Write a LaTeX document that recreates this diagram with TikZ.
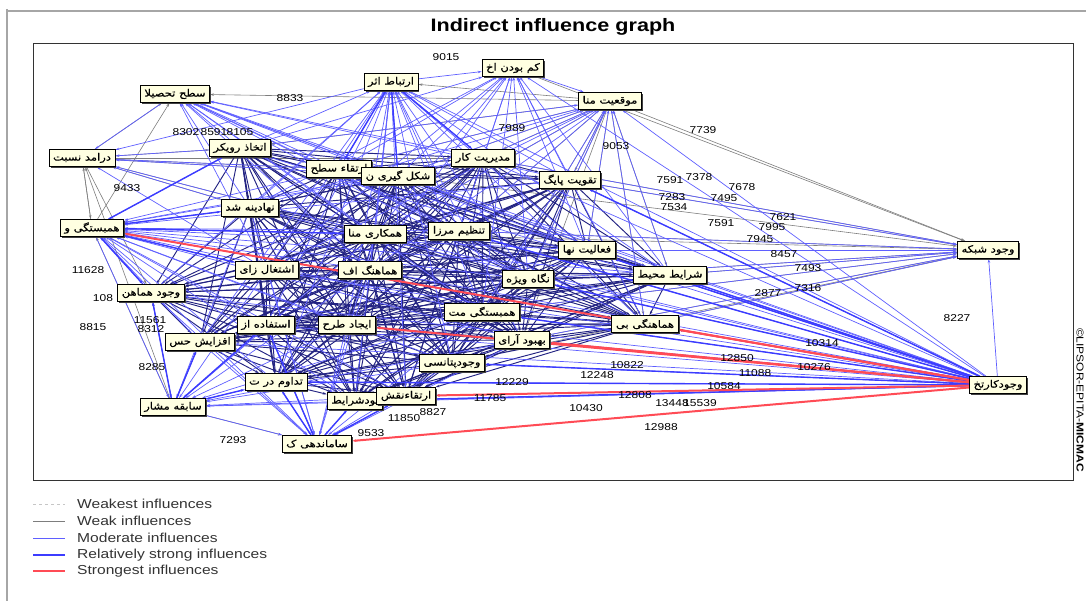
\documentclass[tikz,border=0pt]{standalone}
\usepackage{fontspec}
\setmainfont[FakeStretch=1.2]{Liberation Sans}
\newfontfamily\farsi[Script=Arabic, FakeStretch=1.15, FakeBold=0.6]{DejaVu Sans}
\TeXXeTstate=1
\usetikzlibrary{shadows,backgrounds,arrows.meta}

\newcommand{\fatxt}[1]{{\farsi\beginR #1\endR}}

\definecolor{cream}{RGB}{255,255,225}
\definecolor{weakgray}{RGB}{125,125,125}
\definecolor{modblue}{RGB}{95,95,255}
\definecolor{strongblue}{RGB}{60,60,255}
\definecolor{meshblue}{RGB}{35,35,130}
\definecolor{strongred}{RGB}{255,75,85}

\tikzset{
  factor/.style={draw=black, line width=0.9pt, fill=cream, inner xsep=4pt, inner ysep=1pt,
    minimum height=17pt, font=\fontsize{10}{10}\selectfont,
    drop shadow={shadow xshift=1.5pt, shadow yshift=-1.5pt, fill=black!75, opacity=1}},
  val/.style={font=\fontsize{10}{10}\selectfont, inner sep=0pt},
  legendtext/.style={font=\fontsize{13}{13}\selectfont, text=black!80, anchor=west, inner sep=0pt},
  tip/.style={-{Stealth[length=4pt,width=2.5pt]}},
  weakestline/.style={gray!45, dashed, line width=0.6pt},
  weakline/.style={weakgray, line width=0.6pt, tip},
  modline/.style={modblue, line width=0.7pt, tip},
  meshline/.style={meshblue, line width=0.95pt, tip},
  strongline/.style={strongblue, line width=1.4pt, tip},
  redline/.style={strongred, line width=2pt, tip}
}

\begin{document}
\begin{tikzpicture}[x=1pt, y=-1pt]
\useasboundingbox (0,0) rectangle (1086,601);

% frame
\draw [gray!70, line width=2.5pt] (7,9) -- (7,601);
\draw [gray!70, line width=2.5pt] (6,11) -- (1086,11);
\draw [black!80, line width=1pt] (33,44) rectangle (1073,480);
\node [font=\bfseries\fontsize{18}{18}\selectfont] (title) at (553,27) {Indirect influence graph};
\node [rotate=-90, font=\fontsize{10}{10}\selectfont] (stamp) at (1080,400) {©LIPSOR-EPITA-\textbf{MICMAC}};

% outer factors
\node [factor] (sath) at (175,94) {\fatxt{سطح تحصیلا}};
\node [factor] (ertebat) at (391,82) {\fatxt{ارتباط اثر}};
\node [factor] (kam) at (513,68) {\fatxt{کم بودن اخ}};
\node [factor] (mowqeiat) at (610,101) {\fatxt{موقعیت منا}};
\node [factor] (daramad) at (82,158) {\fatxt{درامد نسبت}};
\node [factor] (hambastegi) at (92,228) {\fatxt{همبستگی و}};
\node [factor] (shabake) at (988,250) {\fatxt{وجود شبکه}};
\node [factor] (kartakh) at (998,385) {\fatxt{وجودکارتخ}};
\node [factor] (sabeghe) at (173,407) {\fatxt{سابقه مشار}};
\node [factor] (samandehi) at (317,444) {\fatxt{ساماندهی ک}};

% inner factors
\node [factor] (ettekhaz) at (240,148) {\fatxt{اتخاذ رویکر}};
\node [factor] (ertegha) at (339,169) {\fatxt{ارتقاء سطح}};
\node [factor] (shekl) at (398,176) {\fatxt{شکل گیری ن}};
\node [factor] (modiriat) at (483,158) {\fatxt{مدیریت کار}};
\node [factor] (taghviat) at (570,180) {\fatxt{تقویت پایگ}};
\node [factor] (nahadine) at (250,208) {\fatxt{نهادینه شد}};
\node [factor] (hamkari) at (375,234) {\fatxt{همکاری منا}};
\node [factor] (tanzim) at (459,231) {\fatxt{تنظیم مرزا}};
\node [factor] (faaliat) at (587,250) {\fatxt{فعالیت نها}};
\node [factor] (eshteghal) at (267,270) {\fatxt{اشتغال زای}};
\node [factor] (hamahang) at (370,270) {\fatxt{هماهنگ اف}};
\node [factor] (negah) at (528,279) {\fatxt{نگاه ویژه}};
\node [factor] (sharayet) at (670,275) {\fatxt{شرایط محیط}};
\node [factor] (vojudham) at (151,293) {\fatxt{وجود هماهن}};
\node [factor] (estefade) at (266,325) {\fatxt{استفاده از}};
\node [factor] (ijad) at (347,325) {\fatxt{ایجاد طرح}};
\node [factor] (hambmat) at (482,312) {\fatxt{همبستگی مت}};
\node [factor] (hamahangi) at (645,324) {\fatxt{هماهنگی بی}};
\node [factor] (behbud) at (522,340) {\fatxt{بهبود آرای}};
\node [factor] (afzayesh) at (200,342) {\fatxt{افزایش حس}};
\node [factor] (potansiel) at (452,363) {\fatxt{وجودپتانسی}};
\node [factor] (tadavom) at (276,382) {\fatxt{تداوم در ت}};
\node [factor] (budsharayet) at (355,401) {\fatxt{بودشرایط}};
\node [factor] (erteghanaghsh) at (406,396) {\fatxt{ارتقاءنقش}};

\def\inner{ettekhaz,ertegha,shekl,modiriat,taghviat,nahadine,hamkari,tanzim,faaliat,eshteghal,hamahang,negah,sharayet,vojudham,estefade,ijad,hambmat,hamahangi,behbud,afzayesh,potansiel,tadavom,budsharayet,erteghanaghsh}
\def\upper{ettekhaz,ertegha,shekl,modiriat,taghviat,nahadine,hamkari,tanzim,faaliat,eshteghal,hamahang,negah,sharayet,hambmat,hamahangi}
\def\lower{nahadine,hamkari,eshteghal,hamahang,vojudham,estefade,ijad,hambmat,behbud,afzayesh,potansiel,tadavom,budsharayet,erteghanaghsh,hambastegi}

\begin{scope}[on background layer]
% weak influences
\foreach \t in {sath,ettekhaz,nahadine,hambastegi,vojudham,ertegha,shekl,hamkari,modiriat}
  \draw [weakline] (daramad) -- (\t);
\foreach \t in {shabake,sath,ettekhaz,ertegha,shekl,modiriat,taghviat,faaliat,sharayet,hamahangi,negah,hamkari,tanzim,ertebat,hambmat,behbud}
  \draw [weakline] (mowqeiat) -- (\t);
\foreach \s in {taghviat,faaliat,sharayet,modiriat,tanzim,hamahangi,negah,kam,hambmat,potansiel,behbud,shekl,hamkari}
  \draw [weakline] (\s) -- (shabake);
\foreach \t in {hambastegi,vojudham,samandehi,daramad,afzayesh}
  \draw [weakline] (sabeghe) -- (\t);
\draw [weakline] (hambastegi) -- (sath);
\draw [weakline] (hambastegi) -- (daramad);

% moderate influences
\foreach \a [count=\i] in \inner {
  \foreach \b [count=\j] in \inner {
    \ifnum\j>\i \draw [meshline] (\a) -- (\b); \fi
  }
}
\foreach \s in \upper \draw [modline] (\s) -- (sath);
\foreach \s in \inner \draw [modline] (\s) -- (ertebat);
\foreach \s in \upper \draw [modline] (\s) -- (kam);
\foreach \s in \upper \draw [modline] (\s) -- (mowqeiat);
\foreach \s in \inner \draw [modline] (\s) -- (hambastegi);
\foreach \s in \lower \draw [modline] (\s) -- (sabeghe);
\foreach \s in \lower \draw [modline] (\s) -- (samandehi);
\foreach \s in {kartakh,hamahangi,sharayet,faaliat,taghviat,behbud,negah,hambmat,tanzim,modiriat}
  \draw [modline] (\s) -- (shabake);
\foreach \t in \inner \draw [modline] (kartakh) -- (\t);
\foreach \t in {mowqeiat,kam,ertebat,sath,hambastegi,sabeghe} \draw [modline] (kartakh) -- (\t);
\foreach \s in {nahadine,ettekhaz,ertegha,shekl,hamkari,eshteghal,sath,ertebat}
  \draw [modline] (\s) -- (daramad);
\draw [modline] (ertebat) -- (kam);
\draw [modline] (kam) -- (mowqeiat);
\draw [modline] (sabeghe) -- (samandehi);

% relatively strong influences
\foreach \t in {sharayet,hamahangi,faaliat,taghviat,negah,hambmat,behbud,potansiel,tanzim,tadavom,budsharayet}
  \draw [strongline] (kartakh) -- (\t);
\foreach \t in {nahadine,eshteghal,vojudham,hamkari,ettekhaz}
  \draw [strongline] (hambastegi) -- (\t);
\foreach \t in {afzayesh,tadavom,estefade,vojudham}
  \draw [strongline] (sabeghe) -- (\t);
\foreach \t in {tadavom,budsharayet,erteghanaghsh,estefade}
  \draw [strongline] (samandehi) -- (\t);
\foreach \t in {shekl,ertegha,modiriat}
  \draw [strongline] (ertebat) -- (\t);

% strongest influences
\foreach \t in {samandehi,erteghanaghsh,behbud,hamahangi,ijad,hambastegi}
  \draw [redline] (kartakh) -- (\t);
\end{scope}

% influence values
\node [val] (n9015) at (446,57) {9015};
\node [val] (n7739) at (703,130) {7739};
\node [val] (n9053) at (616,146) {9053};
\node [val] (n7591a) at (670,180) {7591};
\node [val] (n7378) at (699,177) {7378};
\node [val] (n7678) at (742,187) {7678};
\node [val] (n7283) at (672,197) {7283};
\node [val] (n7495) at (724,198) {7495};
\node [val] (n7534) at (674,207) {7534};
\node [val] (n7591b) at (721,223) {7591};
\node [val] (n7621) at (783,217) {7621};
\node [val] (n7995) at (772,227) {7995};
\node [val] (n7945) at (760,239) {7945};
\node [val] (n8457) at (784,254) {8457};
\node [val] (n7493) at (808,268) {7493};
\node [val] (n7316) at (808,288) {7316};
\node [val] (n2877) at (768,293) {2877};
\node [val] (n8227) at (957,318) {8227};
\node [val] (n10314) at (822,343) {10314};
\node [val] (n12850) at (737,358) {12850};
\node [val] (n10276) at (814,367) {10276};
\node [val] (n11088) at (755,373) {11088};
\node [val] (n10584) at (724,386) {10584};
\node [val] (n12808) at (635,395) {12808};
\node [val] (n10430) at (586,408) {10430};
\node [val] (n13448) at (672,403) {13448};
\node [val] (n15539) at (700,403) {15539};
\node [val] (n12988) at (661,427) {12988};
\node [val] (n12248) at (597,375) {12248};
\node [val] (n11785) at (490,398) {11785};
\node [val] (n12229) at (512,382) {12229};
\node [val] (n10822) at (627,365) {10822};
\node [val] (n11628) at (88,270) {11628};
\node [val] (n108) at (103,298) {108};
\node [val] (n8815) at (93,327) {8815};
\node [val] (n11561) at (150,320) {11561};
\node [val] (n8312) at (151,329) {8312};
\node [val] (n8285) at (152,367) {8285};
\node [val] (n7293) at (233,440) {7293};
\node [val] (n8827) at (433,412) {8827};
\node [val] (n11850) at (404,418) {11850};
\node [val] (n9533) at (371,433) {9533};
\node [val] (n8833) at (290,98) {8833};
\node [val] (n8302) at (186,132) {8302};
\node [val] (n8591) at (214,132) {8591};
\node [val] (n8105) at (240,132) {8105};
\node [val] (n9433) at (127,188) {9433};
\node [val] (n7989) at (512,128) {7989};

% legend
\draw [weakestline] (33,504) -- (65,504);
\draw [weakgray, line width=0.6pt] (33,521) -- (65,521);
\draw [modblue, line width=0.6pt] (33,538) -- (65,538);
\draw [strongblue, line width=1.8pt] (33,555) -- (65,555);
\draw [strongred, line width=1.8pt] (33,571) -- (65,571);
\node [legendtext] (lweakest) at (77,504) {Weakest influences};
\node [legendtext] (lweak) at (77,521) {Weak influences};
\node [legendtext] (lmod) at (77,538) {Moderate influences};
\node [legendtext] (lstrong) at (77,555) {Relatively strong influences};
\node [legendtext] (lred) at (77,571) {Strongest influences};

\end{tikzpicture}
\end{document}
